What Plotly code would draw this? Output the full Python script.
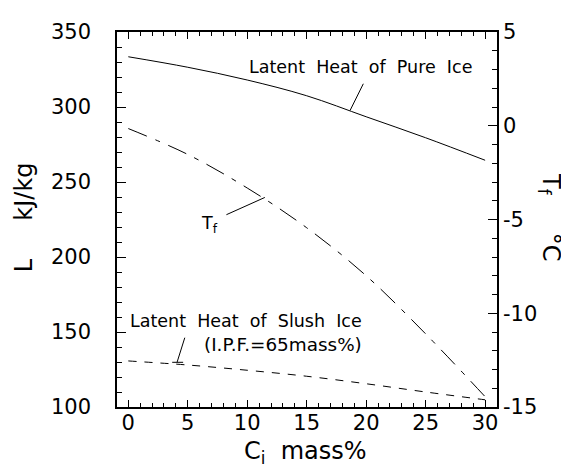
import plotly.graph_objects as go

# concentration of ice-making solution, mass%
ci = [0, 5, 10, 15, 20, 25, 30]
latent_pure = [333.5, 326.5, 318, 307.5, 293.5, 279.5, 264.5]
latent_slush = [130.7, 128, 124.5, 120.5, 115.5, 110, 104.8]
tf = [-0.15, -1.53, -3.32, -5.44, -8.0, -11.1, -14.45]

tf_ticks = [-15, -10, -5, 0, 5]
tf_ticktext = ["-15", "-10", "-5", "0", "5"]

FONT = "DejaVu Sans"
NB = "\u00a0"
SP = NB * 2

fig = go.Figure()
fig.add_trace(go.Scatter(x=ci, y=latent_pure, mode="lines", line=dict(color="black", width=1, shape="spline")))
fig.add_trace(go.Scatter(x=ci, y=latent_slush, mode="lines",
                         line=dict(color="black", width=1, dash="8px,8px", shape="spline")))
fig.add_trace(go.Scatter(x=ci, y=tf, mode="lines", yaxis="y2",
                         line=dict(color="black", width=1, dash="20px,9px,5px,9px", shape="spline")))

tick_common = dict(ticks="inside", showline=True, linecolor="black", linewidth=1.5,
                   tickcolor="black", tickwidth=1, showgrid=False, zeroline=False,
                   tickfont=dict(family=FONT, size=21, color="black"))

fig.update_layout(
    width=569, height=467,
    margin=dict(l=109, r=80, t=22, b=68),
    plot_bgcolor="white", paper_bgcolor="white",
    showlegend=False,
    xaxis=dict(range=[-0.95, 31.0], dtick=5, ticklen=7, mirror="ticks", ticklabelstandoff=-4,
               minor=dict(dtick=1, ticks="inside", ticklen=4, tickcolor="black"),
               **tick_common),
    yaxis=dict(range=[100, 350], dtick=50, ticklen=9, ticklabelstandoff=20,
               minor=dict(dtick=10, ticks="inside", ticklen=5, tickcolor="black"),
               **tick_common),
    yaxis2=dict(range=[-15, 5], overlaying="y", side="right", tickvals=tf_ticks, ticktext=tf_ticktext,
                ticklen=9, ticklabelstandoff=0,
                minor=dict(dtick=1, ticks="inside", ticklen=5, tickcolor="black"),
                **tick_common),
)

ann_font = dict(family=FONT, size=17.5, color="black")
fig.add_annotation(x=29.1, y=326.5, text=SP.join(["Latent", "Heat", "of", "Pure", "Ice"]),
                   showarrow=False, xanchor="right", yanchor="middle", font=ann_font)
fig.add_annotation(x=6.8, y=222, text="T<sub>f</sub>", showarrow=False,
                   xanchor="center", yanchor="middle", font=ann_font)
fig.add_annotation(x=19.85, y=157.4, text=SP.join(["Latent", "Heat", "of", "Slush", "Ice"]),
                   showarrow=False, xanchor="right", yanchor="middle", font=ann_font)
fig.add_annotation(x=19.85, y=141.4, text="(I.P.F.=65mass%)",
                   showarrow=False, xanchor="right", yanchor="middle",
                   font=dict(family=FONT, size=18.4, color="black"))

# axis titles
title_font = dict(family=FONT, size=24, color="black")
fig.add_annotation(xref="paper", yref="paper", x=0.496, y=-0.12, text="C<sub>i</sub>" + NB * 2 + "mass%",
                   showarrow=False, xanchor="center", yanchor="middle", font=title_font)
fig.add_annotation(xref="paper", yref="paper", x=-0.245, y=0.506, text="L" + NB * 5 + "kJ/kg",
                   textangle=-90, showarrow=False, xanchor="center", yanchor="middle", font=title_font)
fig.add_annotation(xref="paper", yref="paper", x=1.14, y=0.506, text="T<sub>f</sub>" + NB * 5 + "\u00b0C",
                   textangle=90, showarrow=False, xanchor="center", yanchor="middle", font=title_font)

# leader lines
line_style = dict(color="black", width=1)
fig.add_shape(type="line", x0=18.64, y0=297.6, x1=19.76, y1=315.5, line=line_style)
fig.add_shape(type="line", x0=8.25, y0=228.2, x1=11.48, y1=239.7, line=line_style)
fig.add_shape(type="line", x0=4.75, y0=146.2, x1=4.10, y1=129.8, line=line_style)
fig.add_shape(type="line", x0=3.69, y0=129.8, x1=4.61, y1=129.8, line=line_style)

fig.write_html("out.html")
